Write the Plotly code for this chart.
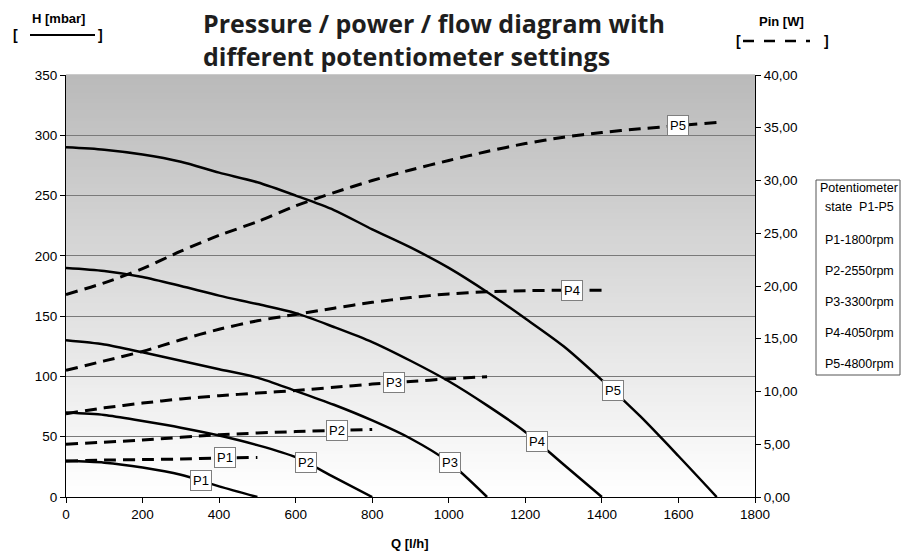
import numpy as np
import plotly.graph_objects as go

# ---------------- data ----------------
# Pressure H [mbar] vs flow Q [l/h]
q_h_p1 = [0, 100, 200, 300, 400, 500]
h_p1 = [30, 28.5, 24.5, 18.5, 8.8, 0]
q_h_p2 = [0, 100, 200, 300, 400, 500, 600, 700, 800]
h_p2 = [70, 68, 63, 57.5, 51, 43, 33, 16.5, 0]
q_h_p3 = [0, 100, 200, 300, 400, 500, 600, 700, 800, 900, 1000, 1100]
h_p3 = [130, 126.5, 120, 113, 106, 99, 88, 76.5, 63.5, 48.5, 29, 0]
q_h_p4 = [0, 100, 200, 300, 400, 500, 600, 700, 800, 900, 1000, 1100, 1200, 1300, 1400]
h_p4 = [190, 187.5, 182.5, 175, 167, 160, 152.5, 141, 128.5, 113, 96, 76, 54, 27, 0]
q_h_p5 = [0, 100, 200, 300, 400, 500, 600, 700, 800, 900, 1000, 1100, 1200, 1300, 1400,
          1500, 1600, 1700]
h_p5 = [290, 288, 284, 278, 269, 261, 250, 238, 222, 207, 190, 170, 148, 125, 97, 67, 34, 0]

# Input power Pin [W] vs flow Q [l/h]
q_w_p1 = [0, 100, 200, 300, 400, 500]
w_p1 = [3.4, 3.5, 3.55, 3.6, 3.7, 3.75]
q_w_p2 = [0, 200, 400, 600, 800]
w_p2 = [5.0, 5.4, 5.9, 6.2, 6.4]
q_w_p3 = [0, 100, 200, 300, 400, 500, 600, 700, 800, 900, 1000, 1100]
w_p3 = [7.9, 8.45, 8.9, 9.3, 9.6, 9.85, 10.1, 10.4, 10.7, 10.95, 11.2, 11.4]
q_w_p4 = [0, 100, 200, 300, 400, 500, 600, 700, 800, 900, 1000, 1100, 1200, 1300, 1400]
w_p4 = [12.0, 12.9, 13.8, 14.9, 15.9, 16.7, 17.3, 17.9, 18.45, 18.9, 19.25, 19.45, 19.55,
        19.6, 19.6]
q_w_p5 = [0, 100, 200, 300, 400, 500, 600, 700, 800, 900, 1000, 1100, 1200, 1300, 1400,
          1500, 1600, 1700]
w_p5 = [19.2, 20.3, 21.65, 23.3, 24.8, 26.1, 27.6, 28.85, 30.0, 31.0, 31.9, 32.75, 33.5,
        34.1, 34.55, 34.9, 35.2, 35.5]

series_names = ["P1", "P2", "P3", "P4", "P5"]
label_q_h = [352, 626, 1002, 1231, 1430]   # where labels sit on H curves
label_q_w = [415, 707, 858, 1323, 1600]    # where labels sit on Pin curves

legend_title = ["Potentiometer", "state  P1-P5"]
legend_items = ["P1-1800rpm", "P2-2550rpm", "P3-3300rpm", "P4-4050rpm", "P5-4800rpm"]

x_ticks = list(range(0, 1801, 200))
y_ticks = list(range(0, 351, 50))
y2_ticks = list(range(0, 41, 5))

title_lines = ["Pressure / power / flow diagram with", "different potentiometer settings"]

H_sets = [(q_h_p1, h_p1), (q_h_p2, h_p2), (q_h_p3, h_p3), (q_h_p4, h_p4), (q_h_p5, h_p5)]
W_sets = [(q_w_p1, w_p1), (q_w_p2, w_p2), (q_w_p3, w_p3), (q_w_p4, w_p4), (q_w_p5, w_p5)]

# ---------------- layout geometry ----------------
W, H = 902, 551
L, R, T, B = 66, 147, 75, 54
PW = W - L - R
PH = H - T - B


def fx(px):
    return (px - L) / PW


def fy(py):
    return (H - B - py) / PH


FONT = "Liberation Sans, Arial, sans-serif"

fig = go.Figure()

for name, (q, h) in zip(series_names, H_sets):
    fig.add_trace(go.Scatter(x=q, y=h, mode="lines", name=name,
                             line=dict(color="black", width=2.5, shape="spline", smoothing=0.8),
                             showlegend=False, yaxis="y", hoverinfo="skip"))
for name, (q, w) in zip(series_names, W_sets):
    fig.add_trace(go.Scatter(x=q, y=w, mode="lines", name=name,
                             line=dict(color="black", width=3, dash="12px,7px",
                                       shape="spline", smoothing=0.8),
                             showlegend=False, yaxis="y2", hoverinfo="skip"))

annotations = []
label_style = dict(showarrow=False, bgcolor="white", bordercolor="#7f7f7f", borderwidth=1,
                   borderpad=2, font=dict(family=FONT, size=13, color="black"))
for name, (q, h), lq in zip(series_names, H_sets, label_q_h):
    annotations.append(dict(x=lq, y=float(np.interp(lq, q, h)), xref="x", yref="y",
                            text=name, **label_style))
for name, (q, w), lq in zip(series_names, W_sets, label_q_w):
    annotations.append(dict(x=lq, y=float(np.interp(lq, q, w)), xref="x", yref="y2",
                            text=name, **label_style))


def paper_text(px, py, text, size, bold=False, family=FONT, xanchor="center",
               yanchor="middle", color="black", align="center"):
    annotations.append(dict(x=fx(px), y=fy(py), xref="paper", yref="paper",
                            xanchor=xanchor, yanchor=yanchor, showarrow=False, align=align,
                            text=("<b>%s</b>" % text) if bold else text,
                            font=dict(family=family, size=size, color=color)))


# title (two lines in one block)
paper_text(201, 3.5, "<br>".join(title_lines), 25, bold=True, family="Open Sans, sans-serif",
           xanchor="left", yanchor="top", color="#1e1e1e", align="left")
# header for left axis
paper_text(58, 18, "H [mbar]", 13, bold=True)
paper_text(15, 35, "[", 14, bold=True)
paper_text(100, 35, "]", 14, bold=True)
# header for right axis
paper_text(781, 22, "Pin [W]", 13, bold=True)
paper_text(738, 41, "[", 14, bold=True)
paper_text(826, 41, "]", 14, bold=True)
# x axis title
paper_text(410, 543, "Q [l/h]", 13, bold=True)
# legend box text
legend_rows_y = [188, 207, 240, 271, 302, 333, 364]
for txt, py in zip(legend_title + legend_items, legend_rows_y):
    paper_text(859, py, txt, 12.5)

shapes = []
# vertical gradient background of plot area
n_bands = 120
top_c, bot_c = 186, 255
for i in range(n_bands):
    t = i / (n_bands - 1)
    c = int(round(bot_c + (top_c - bot_c) * t))
    shapes.append(dict(type="rect", xref="x domain", yref="y domain", x0=0, x1=1,
                       y0=i / n_bands, y1=(i + 1) / n_bands + 0.002, layer="below",
                       line=dict(width=0), fillcolor=f"rgb({c},{c},{c})"))
# header samples
shapes.append(dict(type="line", xref="paper", yref="paper", x0=fx(30), x1=fx(95),
                   y0=fy(35), y1=fy(35), line=dict(color="black", width=2)))
shapes.append(dict(type="line", xref="paper", yref="paper", x0=fx(743), x1=fx(810),
                   y0=fy(41), y1=fy(41), line=dict(color="black", width=2.5, dash="11px,10px")))
# legend box
shapes.append(dict(type="rect", xref="paper", yref="paper", x0=fx(816), x1=fx(900),
                   y0=fy(375), y1=fy(180), line=dict(color="#555555", width=1),
                   fillcolor="rgba(255,255,255,0)", layer="below"))

TICKFONT = dict(family=FONT, size=13.5, color="black")
fig.update_layout(
    width=W, height=H, autosize=False,
    margin=dict(l=L, r=R, t=T, b=B),
    paper_bgcolor="white", plot_bgcolor="white",
    separators=",.",
    hovermode=False,
    font=dict(family=FONT, size=12, color="black"),
    xaxis=dict(range=[0, 1800], tickvals=x_ticks, tickformat="d", showgrid=False,
               showline=True, linecolor="black", linewidth=1, ticks="outside",
               ticklen=5, tickcolor="black", zeroline=False, mirror=False,
               tickfont=TICKFONT),
    yaxis=dict(range=[0, 350], tickvals=y_ticks, tickformat="d", showgrid=True,
               gridcolor="#7a7a7a", gridwidth=1, showline=True, linecolor="black",
               linewidth=1, ticks="outside", ticklen=5, tickcolor="black",
               zeroline=False, tickfont=TICKFONT),
    yaxis2=dict(range=[0, 40], tickvals=y2_ticks, tickformat=".2f", overlaying="y",
                side="right", showgrid=False, showline=True, linecolor="black",
                linewidth=1, ticks="outside", ticklen=5, tickcolor="black",
                zeroline=False, tickfont=TICKFONT),
    annotations=annotations,
    shapes=shapes,
)

fig.write_html("out.html", config={"displayModeBar": False},
               post_script="document.body.style.margin='0';")
